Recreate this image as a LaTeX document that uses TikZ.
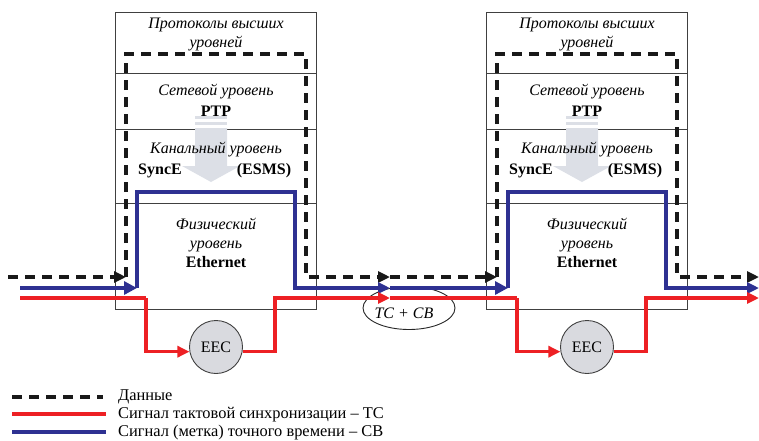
\documentclass[tikz,border=0pt]{standalone}
\usepackage{fontspec}
\setmainfont{Liberation Serif}
\usetikzlibrary{arrows.meta,shapes.geometric}
\definecolor{sigblue}{HTML}{2E3192}
\definecolor{sigred}{HTML}{ED2024}
\definecolor{eecgray}{HTML}{D9DADF}
\definecolor{arrgray}{HTML}{DCDFE6}
\definecolor{boxline}{HTML}{404040}
\begin{document}
\begin{tikzpicture}[x=1pt,y=-1pt,
  layerbox/.style={draw=boxline,line width=0.9pt,minimum width=201pt,inner sep=0pt,anchor=north west},
  ittext/.style={font=\fontsize{16}{19}\selectfont\itshape,align=center,inner sep=0pt,text=black},
  bftext/.style={font=\fontsize{16}{19}\selectfont\bfseries,inner sep=0pt},
  legtext/.style={font=\fontsize{16.4}{19}\selectfont,anchor=west,inner sep=0pt,text=black},
  datasig/.style={line width=3.6pt,dash pattern=on 10pt off 7pt,black!90},
  clocksig/.style={line width=3.6pt,sigred},
  timesig/.style={line width=3.2pt,sigblue},
  tip/.style={-{Triangle[length=12pt,width=11pt]}},
  eecnode/.style={circle,draw=boxline,line width=0.9pt,fill=eecgray,minimum size=53pt,inner sep=0pt,font=\fontsize{16}{19}\selectfont}
]
\useasboundingbox (0,0) rectangle (759,440);

\foreach \p/\s in {a/0,b/371}{
\begin{scope}[xshift=\s pt]
  \node[layerbox,minimum height=61pt] (\p-L1) at (115,12) {};
  \node[layerbox,minimum height=56pt] (\p-L2) at (115,73) {};
  \node[layerbox,minimum height=74pt] (\p-L3) at (115,129) {};
  \node[layerbox,minimum height=106pt] (\p-L4) at (115,203) {};
  % grey arrow
  \fill[arrgray] (195,116) rectangle (227,119);
  \fill[arrgray] (195,122) rectangle (227,125);
  \fill[arrgray] (195,128) -- (227,128) -- (227,166) -- (240,166) -- (211,182) -- (182,166) -- (195,166) -- cycle;
  % texts
  \node[ittext] (\p-t1) at (216,34) {Протоколы высших\\уровней};
  \node[ittext] (\p-t2) at (216,92) {Сетевой уровень};
  \node[bftext] (\p-t2b) at (216,111) {PTP};
  \node[ittext] (\p-t3) at (216,150) {Канальный уровень};
  \node[bftext] (\p-t3a) at (160,171) {SyncE};
  \node[bftext] (\p-t3b) at (264,171) {(ESMS)};
  \node[ittext] (\p-t4) at (216,243) {Физический\\уровень\\\textbf{\upshape Ethernet}};
  % corner coordinates
  \coordinate (\p-din) at (126,277);
  \coordinate (\p-dtl) at (126,54);
  \coordinate (\p-dtr) at (306,54);
  \coordinate (\p-dout) at (306,277);
  \coordinate (\p-bin) at (137,288);
  \coordinate (\p-btl) at (137,192);
  \coordinate (\p-btr) at (295,192);
  \coordinate (\p-bout) at (295,288);
  \coordinate (\p-rin) at (146,298);
  \coordinate (\p-rout) at (275,298);
  \node[eecnode] (\p-eec) at (216,347) {EEC};
\end{scope}
}

% TC + CB ellipse
\node[ellipse,draw=black!85,line width=0.9pt,minimum width=92pt,minimum height=43pt,inner sep=0pt] (tccb) at (409,308) {};
\node[ittext] (tccbtext) at (404,313) {ТС + СВ};

% start / mid / end coordinates
\coordinate (dstart) at (8,277);
\coordinate (bstart) at (20,288);
\coordinate (rstart) at (20,298);
\coordinate (dmid) at (390,277);
\coordinate (bmid) at (390,288);
\coordinate (rmid) at (390,298);
\coordinate (dend) at (759,277);
\coordinate (bend) at (759,288);
\coordinate (rend) at (759,298);

% data (dashed)
\draw[datasig,tip] (dstart) -- (a-din);
\draw[datasig,tip] (a-din) -- (a-dtl) -- (a-dtr) -- (a-dout) -- (dmid);
\draw[datasig,tip] (dmid) -- (b-din);
\draw[datasig,tip] (b-din) -- (b-dtl) -- (b-dtr) -- (b-dout) -- (dend);

% time signal (blue)
\draw[timesig,-{Triangle[length=13pt,width=13pt]}] (bstart) -- (a-bin);
\draw[timesig,tip] (a-bin) -- (a-btl) -- (a-btr) -- (a-bout) -- (bmid);
\draw[timesig,-{Triangle[length=13pt,width=13pt]}] (bmid) -- (b-bin);
\draw[timesig,tip] (b-bin) -- (b-btl) -- (b-btr) -- (b-bout) -- (bend);

% clock signal (red)
\draw[clocksig] (rstart) -- (a-rin);
\draw[clocksig,tip] (a-rin) |- (a-eec.190);
\draw[clocksig,tip] (a-eec.-10) -| (a-rout) -- (rmid);
\draw[clocksig] (rmid) -- (b-rin);
\draw[clocksig,tip] (b-rin) |- (b-eec.190);
\draw[clocksig,tip] (b-eec.-10) -| (b-rout) -- (rend);

% legend
\draw[datasig] (12,397) -- (103,397);
\node[legtext] (leg1) at (118,397) {Данные};
\draw[clocksig] (12,414) -- (106,414);
\node[legtext] (leg2) at (118,415) {Сигнал тактовой синхронизации – ТС};
\draw[timesig] (12,432) -- (106,432);
\node[legtext] (leg3) at (118,433) {Сигнал (метка) точного времени – СВ};
\end{tikzpicture}
\end{document}
